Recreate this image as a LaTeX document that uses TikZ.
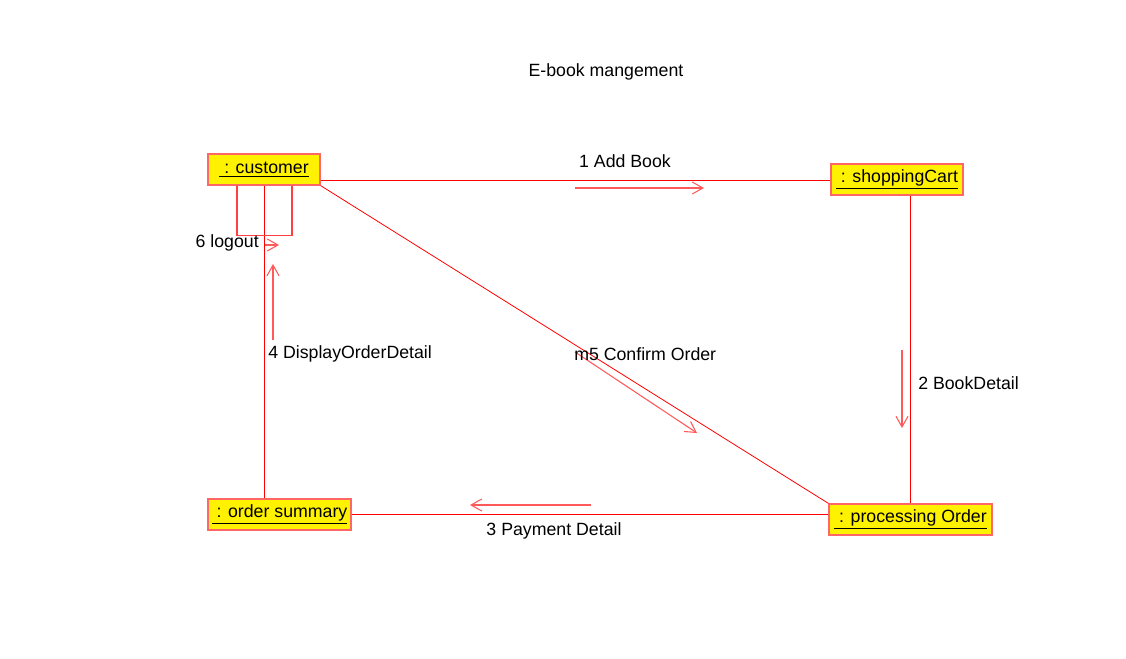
\documentclass[tikz,border=0pt]{standalone}
\usepackage{fontspec}
\setmainfont{Liberation Sans}
\usetikzlibrary{arrows.meta,calc}

\tikzset{
  obj/.style={draw=boxline, fill=yellow, line width=0.9pt, inner sep=0pt, minimum height=31*0.75pt},
  lbl/.style={inner sep=0pt},
  link/.style={draw=red, line width=0.6pt},
  msg/.style={draw=msgline, line width=0.8pt, -{Straight Barb[length=8pt,width=9pt]}},
}

\begin{document}
\begin{tikzpicture}[x=0.75pt, y=-0.75pt, font=\fontsize{13.3}{15}\selectfont]
    \colorlet{boxline}{red!60}
    \colorlet{msgline}{red!65}

    \useasboundingbox (0,0) rectangle (1126,658);

    \node[lbl] (title) at (606,72) {E-book mangement};

    %% objects
    \node[obj, minimum width=112*0.75pt] (customer) at (264,169.5) {\underline{~: customer}};
    \node[obj, minimum width=132*0.75pt] (cart) at (897,179.5) {\underline{~: shoppingCart}};
    \node[obj, minimum width=143*0.75pt] (summary) at (279.5,514.5) {\underline{~: order summary}};
    \node[obj, minimum width=163*0.75pt] (proc) at (910.5,519.5) {\underline{~: processing Order}};

    %% links
    \draw[link] (customer.east |- 0,180) -- (cart.west |- 0,180);
    \draw[link] (cart.south -| proc) -- (proc.north);
    \draw[link] (proc.west |- summary) -- (summary.east);
    \draw[link] (summary.north -| customer) -- (customer.south);
    \draw[link] (customer.south east) -- (proc.north west);

    %% self link of customer
    \coordinate (loopa) at ([xshift=-27*0.75pt]customer.south);
    \coordinate (loopb) at ([xshift=28*0.75pt]customer.south);
    \draw[link, line width=0.8pt, draw=red!75] (loopa) -- ++(0,50) -| (loopb);

    %% messages
    \coordinate (m1a) at (575,188);  \coordinate (m1b) at (704,188);
    \coordinate (m2a) at (902,350);  \coordinate (m2b) at (902,428);
    \coordinate (m3a) at (591,505);  \coordinate (m3b) at (470,505);
    \coordinate (m4a) at (273,340);  \coordinate (m4b) at (273,264);
    \coordinate (m5a) at (575,352);  \coordinate (m5b) at (697,433);
    \coordinate (m6a) at (265,245);  \coordinate (m6b) at (279,245);

    \foreach \m in {1,...,6} \draw[msg] (m\m a) -- (m\m b);

    \node[lbl] (l1) at (625,161) {1 Add Book};
    \node[lbl, anchor=west] (l2) at (918,383) {2 BookDetail};
    \node[lbl] (l3) at (554,531) {3 Payment Detail};
    \node[lbl, anchor=west] (l4) at (268,354) {4 DisplayOrderDetail};
    \node[lbl, anchor=west] (l5) at (574,354) {m5 Confirm Order};
    \node[lbl, anchor=east] (l6) at (259,243) {6 logout};

\end{tikzpicture}
\end{document}
